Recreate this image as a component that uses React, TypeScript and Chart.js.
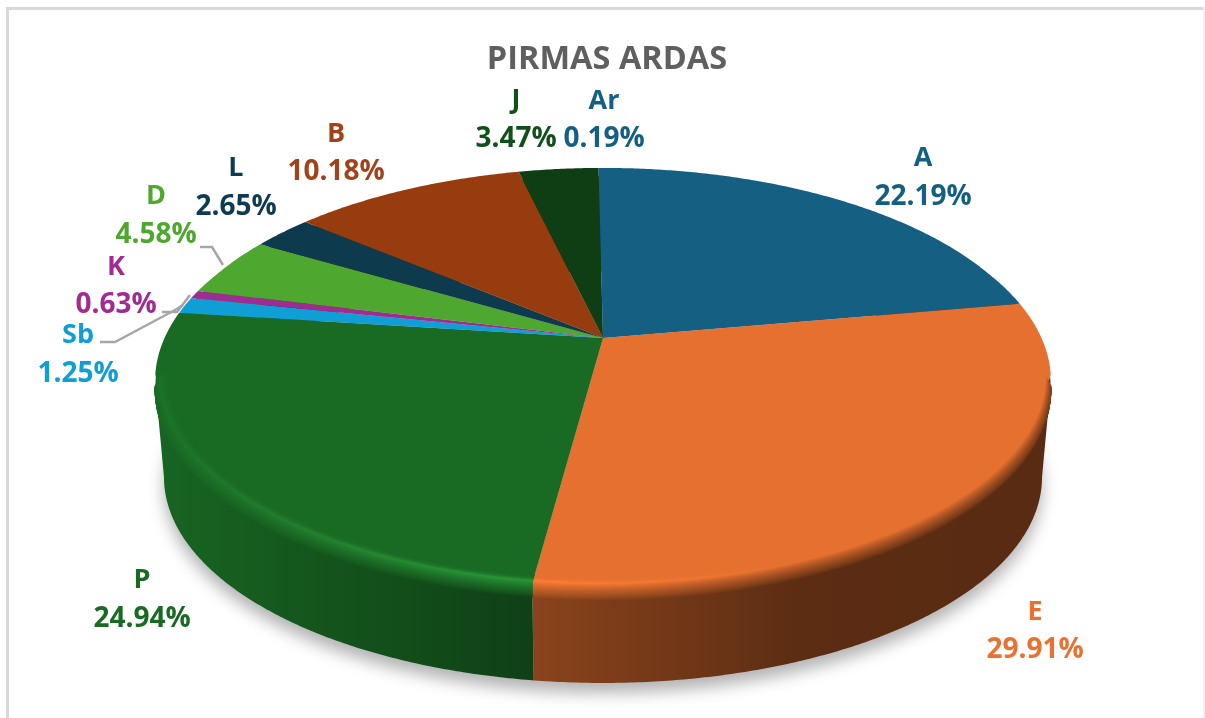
import React, { useEffect, useRef } from "react";
import { Chart, registerables } from "chart.js";

Chart.register(...registerables);

// ---- data ----
const categories = ["A", "E", "P", "Sb", "K", "D", "L", "B", "J", "Ar"];
const shares = [22.19, 29.91, 24.94, 1.25, 0.63, 4.58, 2.65, 10.18, 3.47, 0.19];
const chartTitle = "PIRMAS ARDAS";

// ---- styles ----
const sliceColors = ["#156082", "#E6702F", "#196B24", "#0F9ED5", "#A02B93", "#4EA72E", "#0E3A4E", "#963C0E", "#0F3E14", "#156082"];
const textColors = ["#156082", "#E97132", "#196B24", "#0F9ED5", "#A02B93", "#4EA72E", "#0E3A52", "#A0431B", "#12501A", "#156082"];
const FONT = '"Open Sans", sans-serif';

// ---- layout: label anchors [x, name y, value y] ----
const labelAnchors: number[][] = [
  [923, 158, 197], [1035, 612, 650], [142, 580, 619], [78, 335, 374], [116, 267, 305],
  [156, 196, 235], [236, 168, 207], [336, 134, 172], [516, 100, 139], [604, 101, 139],
];
const leaderPaths: number[][][] = [
  [[200, 247], [212, 247], [223, 265]],
  [[162, 312], [177, 312], [190, 295]],
  [[100, 342], [115, 342], [175, 310], [183, 305]],
];

// projection of the pie disc (perspective tilt)
const CX = 603, CY = 338, RX = 435, RY = 200.7, K = 0.18, DEPTH = 102;
const DEG = Math.PI / 180;
const BULGE = 0.012;

function spread(z: number): number {
  return z < 0.1 ? 1 + (BULGE * z) / 0.1 : 1 + BULGE - 0.0214 * (z - 0.1);
}

function project(a: number, r: number, z: number): [number, number] {
  const x = Math.cos(a) * r, y = Math.sin(a) * r;
  const w = 1 - K * y;
  const s = spread(z);
  return [CX + (RX * s * x) / w, CY + z * DEPTH + (RY * s * y) / w];
}

function rgb(hex: string): number[] {
  return [1, 3, 5].map((i) => parseInt(hex.slice(i, i + 2), 16));
}
const css = (c: number[]) => `rgb(${c.map((v) => Math.round(Math.max(0, Math.min(255, v)))).join(",")})`;
const mix = (a: number[], b: number[], t: number) => a.map((v, i) => v + (b[i] - v) * t);

function piecewise(pts: number[][], x: number): number {
  if (x <= pts[0][0]) return pts[0][1];
  for (let i = 1; i < pts.length; i++) {
    if (x <= pts[i][0]) {
      const t = (x - pts[i - 1][0]) / (pts[i][0] - pts[i - 1][0]);
      return pts[i - 1][1] + (pts[i][1] - pts[i - 1][1]) * t;
    }
  }
  return pts[pts.length - 1][1];
}
const shadePts = [[150, 0.95], [535, 0.6], [800, 0.4], [1060, 0.38]];
const coolGlow = [[157, 0.03], [300, 0.09], [500, 0.18], [540, 0.18]];
const warmGlow = [[535, 0.055], [800, 0]];

// top face outline swells slightly where it meets the side silhouette
function faceRadius(a: number): number {
  const d = a / DEG;
  return 1 + BULGE * piecewise([[-20, 0], [10, 1], [16, 0], [164, 0], [170, 1], [200, 0]], d);
}

function arcPath(ctx: CanvasRenderingContext2D, a0: number, a1: number, r: number | ((a: number) => number), z: number, move: boolean) {
  const n = Math.max(2, Math.ceil(Math.abs(a1 - a0) / 0.008));
  for (let i = 0; i <= n; i++) {
    const a = a0 + ((a1 - a0) * i) / n;
    const [x, y] = project(a, typeof r === "function" ? r(a) : r, z);
    if (i === 0 && move) ctx.moveTo(x, y);
    else ctx.lineTo(x, y);
  }
}

function xGradient(ctx: CanvasRenderingContext2D, color: (x: number) => number[]) {
  const g = ctx.createLinearGradient(150, 0, 1060, 0);
  const N = 46;
  for (let s = 0; s <= N; s++) g.addColorStop(s / N, css(color(150 + (910 * s) / N)));
  return g;
}

const pie3d = {
  id: "pie3d",
  beforeDraw(chart: any) {
    const ctx: CanvasRenderingContext2D = chart.ctx;
    ctx.save();
    ctx.fillStyle = "#ffffff";
    ctx.fillRect(0, 0, chart.width, chart.height);
    ctx.fillStyle = "#d9d9d9";
    ctx.fillRect(6, 7, chart.width - 6, 3);
    ctx.fillRect(6, 7, 3, chart.height - 7);
    ctx.fillStyle = "#efefef";
    ctx.fillRect(1203, 7, 2, chart.height - 7);
    ctx.restore();
  },
  beforeDatasetDraw() {
    return false;
  },
  beforeDatasetsDraw(chart: any) {
    const ctx: CanvasRenderingContext2D = chart.ctx;
    const arcs = chart.getDatasetMeta(0).data;
    const lo = 10.4 * DEG, hi = 169.6 * DEG;
    ctx.save();

    // ground shadow
    ctx.save();
    ctx.shadowColor = "rgba(0,0,0,0.30)";
    ctx.shadowBlur = 16;
    ctx.shadowOffsetY = 10;
    ctx.fillStyle = "#cccccc";
    ctx.beginPath();
    arcPath(ctx, 0, Math.PI * 2, 1, 1, true);
    ctx.closePath();
    ctx.fill();
    ctx.restore();

    // outer wall, including the tangent wedges at the two silhouette points
    arcs.forEach((arc: any, i: number) => {
      const base = rgb(sliceColors[i]);
      ctx.fillStyle = xGradient(ctx, (x) => base.map((v) => v * piecewise(shadePts, x)));
      ctx.beginPath();
      arcPath(ctx, arc.startAngle, arc.endAngle, 1, 0.1, true);
      arcPath(ctx, arc.endAngle, arc.startAngle, 1, 1, false);
      ctx.closePath();
      ctx.fill();
      [lo, hi].forEach((a) => {
        if (a < arc.startAngle || a > arc.endAngle) return;
        const p = [project(a, 1, 0.1), project(a, 1, 1), project(a, 0.9, 0.5)];
        ctx.beginPath();
        p.forEach(([x, y], j) => (j ? ctx.lineTo(x, y) : ctx.moveTo(x, y)));
        ctx.closePath();
        ctx.fill();
      });
    });

    // top face
    arcs.forEach((arc: any, i: number) => {
      ctx.fillStyle = sliceColors[i];
      ctx.beginPath();
      ctx.moveTo(CX, CY);
      arcPath(ctx, arc.startAngle, arc.endAngle, faceRadius, 0, false);
      ctx.closePath();
      ctx.fill();
    });

    // bevelled front rim: rings painted from the wall inwards
    const RINGS = 26;
    ctx.lineCap = "butt";
    ctx.lineWidth = 2.2;
    arcs.forEach((arc: any, i: number) => {
      const from = Math.max(arc.startAngle, lo), to = Math.min(arc.endAngle, hi);
      if (to <= from) return;
      const base = rgb(sliceColors[i]);
      const warm = base[0] > 200;
      for (let k = RINGS; k >= 0; k--) {
        const u = k / RINGS;
        const split = 0.25;
        let r = 1, z = 0;
        if (u < split) r = 0.982 + (0.018 * u) / split;
        else z = (0.14 * (u - split)) / (1 - split);
        ctx.strokeStyle = xGradient(ctx, (x) => {
          const hl = piecewise(warm ? warmGlow : coolGlow, x);
          const light = base.map((v) => v * (1 + hl * 2) + hl * 40);
          const wall = base.map((v) => v * piecewise(shadePts, x));
          if (u < split) {
            const t = u / split;
            return mix(base, light, t * t);
          }
          const t = (u - split) / (1 - split);
          return mix(light, wall, Math.pow(t, 0.8));
        });
        ctx.beginPath();
        arcPath(ctx, from, to, r, z, true);
        ctx.stroke();
      }
    });
    ctx.restore();
  },
  afterDatasetsDraw(chart: any) {
    const ctx: CanvasRenderingContext2D = chart.ctx;
    ctx.save();
    ctx.strokeStyle = "#a6a6a6";
    ctx.lineWidth = 2.5;
    leaderPaths.forEach((path) => {
      ctx.beginPath();
      path.forEach(([x, y], i) => (i ? ctx.lineTo(x, y) : ctx.moveTo(x, y)));
      ctx.stroke();
    });
    ctx.textAlign = "center";
    ctx.textBaseline = "middle";
    categories.forEach((name, i) => {
      const [x, y1, y2] = labelAnchors[i];
      ctx.fillStyle = textColors[i];
      ctx.font = `700 27px ${FONT}`;
      ctx.fillText(name, x, y1);
      ctx.font = `700 28px ${FONT}`;
      ctx.fillText(shares[i].toFixed(2) + "%", x, y2);
    });
    ctx.restore();
  },
};

export default function App() {
  const ref = useRef<HTMLCanvasElement>(null);
  useEffect(() => {
    const chart = new Chart(ref.current as HTMLCanvasElement, {
      type: "pie",
      data: {
        labels: categories,
        datasets: [{ data: shares, backgroundColor: sliceColors, borderWidth: 0 }],
      },
      options: {
        responsive: false,
        animation: false,
        layout: { padding: { left: 9, top: 40 } },
        plugins: {
          legend: { display: false },
          tooltip: { enabled: false },
          title: {
            display: true,
            text: chartTitle,
            color: "#5F5F5F",
            font: { family: FONT, size: 32.5, weight: "bold" },
            padding: { top: 0, bottom: 10 },
          },
        },
      },
      plugins: [pie3d],
    } as any);
    return () => chart.destroy();
  }, []);
  return (
    <canvas
      ref={ref}
      width={1205}
      height={718}
      style={{ position: "fixed", left: 0, top: 0, width: 1205, height: 718, display: "block", filter: "blur(0.5px)" }}
    />
  );
}
